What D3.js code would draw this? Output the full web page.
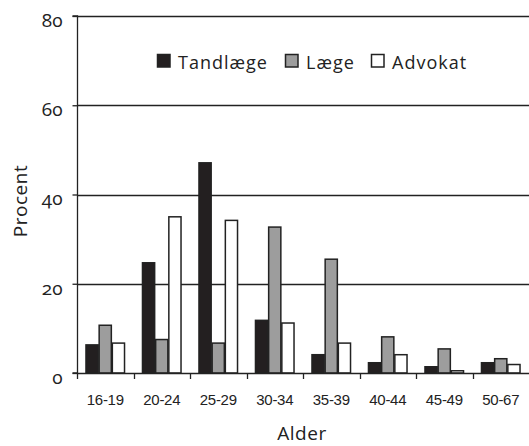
<!DOCTYPE html>
<html><head><meta charset="utf-8">
<script src="https://cdn.jsdelivr.net/npm/d3@7"></script>
<style>body{margin:0;background:#fff}svg{display:block}</style>
</head><body>
<script>
const categories = ["16-19","20-24","25-29","30-34","35-39","40-44","45-49","50-67"];
const seriesNames = ["Tandlæge","Læge","Advokat"];
const tandlaege = [6.3, 24.7, 47.1, 11.8, 4.1, 2.3, 1.4, 2.3];
const laege = [10.7, 7.5, 6.7, 32.7, 25.5, 8.1, 5.4, 3.2];
const advokat = [6.7, 35.0, 34.2, 11.2, 6.7, 4.1, 0.5, 1.9];
const yTicks = [0, 20, 40, 60, 80];
const colors = ["#231f20", "#9d9d9d", "#ffffff"];

const W = 529, H = 446;
const m = {left: 77, right: 0, top: 16, bottom: 73};
const svg = d3.select("body").append("svg").attr("width", W).attr("height", H);

const x0 = d3.scaleBand().domain(categories).range([m.left, W - m.right]).paddingInner(0.3).paddingOuter(0.15);
const x1 = d3.scaleBand().domain(seriesNames).range([0, x0.bandwidth()]);
const y = d3.scaleLinear().domain([0, 80]).range([H - m.bottom, m.top]);

// gridlines
svg.append("g").selectAll("line").data(yTicks.filter(d => d > 0)).join("line")
  .attr("x1", m.left).attr("x2", W).attr("y1", d => Math.round(y(d)) + 0.5).attr("y2", d => Math.round(y(d)) + 0.5)
  .attr("stroke", "#222").attr("stroke-width", 1.3);

const data = categories.map((c, i) => ({cat: c, vals: [tandlaege[i], laege[i], advokat[i]]}));
svg.append("g").selectAll("g").data(data).join("g")
  .attr("transform", d => `translate(${x0(d.cat)},0)`)
  .selectAll("rect").data(d => d.vals.map((v, j) => ({v, j})))
  .join("rect")
  .attr("x", d => x1(seriesNames[d.j]) + 0.5)
  .attr("width", x1.bandwidth() - 1)
  .attr("y", d => y(d.v))
  .attr("height", d => y(0) - y(d.v))
  .attr("fill", d => colors[d.j])
  .attr("stroke", "#222").attr("stroke-width", 1.5);

// y axis
const yAxis = d3.axisLeft(y).tickValues(yTicks).tickSize(5).tickPadding(10).tickFormat(d3.format("d"));
const gy = svg.append("g").attr("transform", `translate(${m.left + 0.5},0)`).call(yAxis);
gy.select(".domain").attr("stroke", "#222").attr("stroke-width", 1.3).attr("d", `M-5,${y(80)}H0V${y(0)}H-5`);
gy.selectAll(".tick line").attr("stroke", "#222").attr("stroke-width", 1.3);
gy.selectAll("text").attr("font-family", "Open Sans, sans-serif").attr("font-size", 19).attr("fill", "#222")
  .attr("x", -15).attr("dy", "0.55em")
  .style("font-feature-settings", "'onum' 1").style("font-variant-numeric", "oldstyle-nums");

// x axis
const gx = svg.append("g").attr("transform", `translate(0,${y(0) + 0.5})`)
  .call(d3.axisBottom(x0).tickSize(0).tickPadding(0));
gx.select(".domain").attr("stroke", "#222").attr("stroke-width", 1.3).attr("d", `M${m.left},0H${W}`);
gx.selectAll("text").attr("font-family", "Liberation Sans, Arial, sans-serif").attr("font-size", 15)
  .attr("letter-spacing", -0.3).attr("fill", "#222").attr("dy", 0).attr("y", 31.5);
// boundary ticks
const step = x0.step();
const bounds = d3.range(categories.length).map(i => x0(categories[i]) - x0.paddingOuter() * step);
svg.append("g").selectAll("line").data(bounds).join("line")
  .attr("x1", d => Math.round(d) + 0.5).attr("x2", d => Math.round(d) + 0.5)
  .attr("y1", y(0)).attr("y2", y(0) + 6).attr("stroke", "#222").attr("stroke-width", 1.3);

// axis titles
svg.append("text").attr("x", 302).attr("y", 440).attr("text-anchor", "middle")
  .attr("font-family", "Open Sans, sans-serif").attr("font-size", 19).attr("letter-spacing", 0.5).attr("fill", "#222").text("Alder");
svg.append("text").attr("transform", "translate(27,201) rotate(-90)").attr("text-anchor", "middle")
  .attr("font-family", "Open Sans, sans-serif").attr("font-size", 19).attr("letter-spacing", 0.5).attr("fill", "#222").text("Procent");

// legend
const legendX = [157, 285, 371];
const lg = svg.append("g").selectAll("g").data(seriesNames).join("g")
  .attr("transform", (d, i) => `translate(${legendX[i]},54)`);
lg.append("rect").attr("x", 0.5).attr("y", 0.5).attr("width", 12.5).attr("height", 12.5)
  .attr("fill", (d, i) => colors[i]).attr("stroke", "#222").attr("stroke-width", 1.5);
lg.append("text").attr("x", 21).attr("y", 14.5).attr("font-family", "Open Sans, sans-serif")
  .attr("font-size", 18).attr("letter-spacing", 1).attr("fill", "#222").text(d => d);
</script>
</body></html>
